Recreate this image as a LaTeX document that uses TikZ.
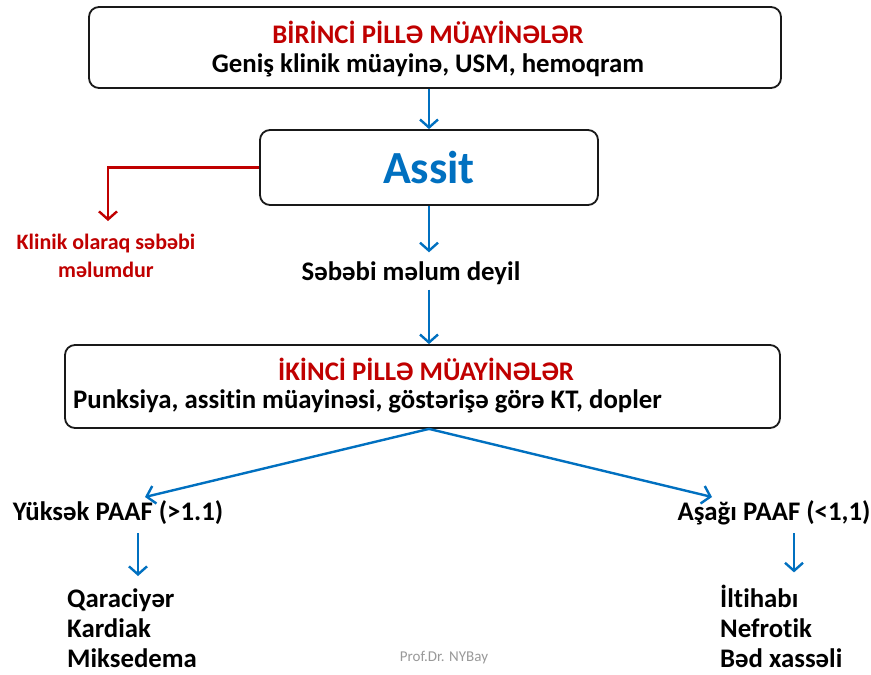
\documentclass[tikz,border=0pt]{standalone}
\usepackage{fontspec}
\setmainfont[Ligatures=CommonOff]{Carlito}
\usetikzlibrary{arrows.meta}
\definecolor{myred}{HTML}{C00000}
\definecolor{myblue}{HTML}{0070C0}
\begin{document}
\begin{tikzpicture}[x=1pt,y=-1pt,
  box/.style={draw=black!90, line width=1.8pt, rounded corners=10pt, inner sep=0pt, fill=white},
  txt/.style={font=\fontsize{26.8}{30}\selectfont\bfseries, inner sep=0pt},
  listtxt/.style={font=\fontsize{26.8}{30}\selectfont\bfseries, inner sep=0pt, anchor=base west},
  redtxt/.style={font=\fontsize{22}{28}\selectfont\bfseries, text=myred, inner sep=0pt, align=center},
  arr/.style={draw=myblue, line width=2.4pt, -{Straight Barb[length=8pt,width=18pt,line width=2.4pt]}},
  rarr/.style={draw=myred, line width=2.4pt, -{Straight Barb[length=8pt,width=18pt,line width=2.4pt]}}]
\useasboundingbox (0,0) rectangle (871,675);
\fill[white] (0,0) rectangle (871,675);
% boxes
\node[box, minimum width=692, minimum height=81] (box1) at (435,47.5) {};
\node[box, minimum width=338, minimum height=75] (assit) at (429,167.5) {};
\node[box, minimum width=715, minimum height=83] (box2) at (422.5,386.5) {};
% texts in boxes
\node[txt, text=myred] (t1) at (428,32) {BİRİNCİ PİLLƏ MÜAYİNƏLƏR};
\node[txt] (t1b) at (428,65) {Geniş klinik müayinə, USM, hemoqram};
\node[font=\fontsize{46}{50}\selectfont\bfseries, text=myblue, inner sep=0pt] (assittxt) at (429,168) {Assit};
\node[txt, text=myred] (t2) at (426,369) {İKİNCİ PİLLƏ MÜAYİNƏLƏR};
\node[txt, anchor=west] (t2b) at (73,401) {Punksiya, assitin müayinəsi, göstərişə görə KT, dopler};
% free texts
\node[redtxt] (klinik) at (106,256) {Klinik olaraq səbəbi\\məlumdur};
\node[txt] (sebebi) at (411,273) {Səbəbi məlum deyil};
\node[txt] (yuksek) at (118,513) {Yüksək PAAF (>1.1)};
\node[txt] (asagi) at (774,513) {Aşağı PAAF (<1,1)};
\node[listtxt] (l1) at (67,607) {Qaraciyər};
\node[listtxt] (l2) at (67,637) {Kardiak};
\node[listtxt] (l3) at (67,667) {Miksedema};
\node[listtxt] (r1) at (720,607) {İltihabı};
\node[listtxt] (r2) at (720,637) {Nefrotik};
\node[listtxt] (r3) at (720,667) {Bəd xassəli};
\node[font=\fontsize{15}{17}\selectfont, text=black!40, inner sep=0pt] (wm) at (444,658) {Prof.Dr. NYBay};
% connector ends
\coordinate (redend) at (108,221);
\coordinate (ytip) at (145,497);
\coordinate (atip) at (712,497);
% connectors
\draw[arr] (box1.south -| assit.north) -- (assit.north);
\draw[rarr] (assit.west) -| (redend);
\draw[arr, shorten >=9pt] (assit.south) -- (assit.south |- sebebi.north);
\draw[arr, shorten <=5pt] (assit.south |- sebebi.south) -- (assit.south |- box2.north);
\draw[arr] (assit.south |- box2.south) -- (ytip);
\draw[arr] (assit.south |- box2.south) -- (atip);
\draw[arr, shorten <=8pt, shorten >=12pt] (yuksek.south -| 138,0) -- (l1.north -| 138,0);
\draw[arr, shorten <=8pt, shorten >=12pt] (asagi.south -| 794,0) -- (r1.north -| 794,0);
\end{tikzpicture}
\end{document}
